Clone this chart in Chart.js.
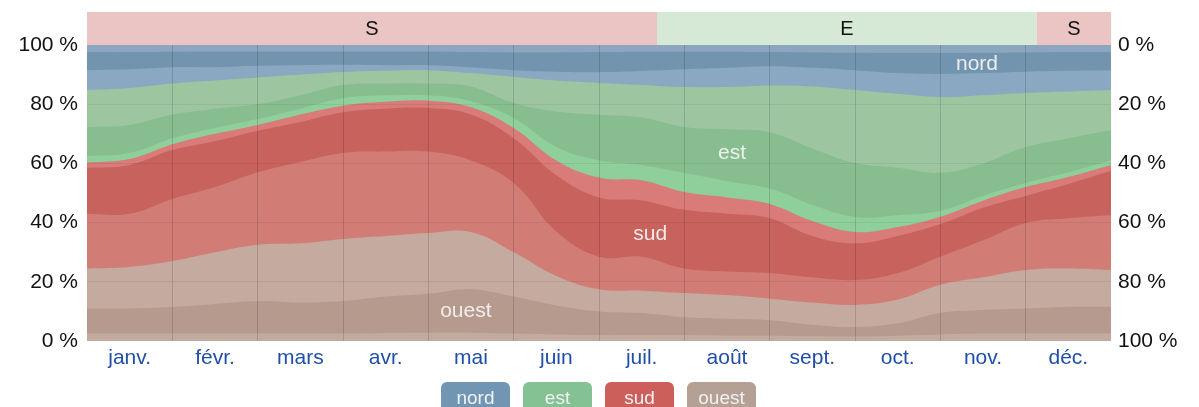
<!DOCTYPE html>
<html>
<head>
<meta charset="utf-8">
<script src="https://cdn.jsdelivr.net/npm/chart.js@4"></script>
<style>
  html, body { margin: 0; padding: 0; background: #fff; }
  #wrap { position: relative; width: 1199px; height: 407px; overflow: hidden; }
  #legend { position: absolute; top: 382px; left: 441px; display: flex; gap: 13px; }
  #legend span {
    font: 19px Arial, "Liberation Sans", sans-serif;
    display: block; width: 69px; height: 31px; line-height: 31px; border-radius: 6px;
    color: #f2f2f2; text-align: center;
  }
</style>
</head>
<body>
<div id="wrap">
  <canvas id="windChart" width="1199" height="407"></canvas>
  <div id="legend"></div>
</div>
<script>
// Mois (position en mois depuis le 1er janvier)
const mois = ["janv.", "févr.", "mars", "avr.", "mai", "juin", "juil.", "août", "sept.", "oct.", "nov.", "déc."];
const positions = [0, 0.5, 1, 1.5, 2, 2.5, 3, 3.5, 4, 4.5, 5, 5.5, 6, 6.5, 7, 7.5, 8, 8.5, 9, 9.5, 10, 10.5, 11, 11.5, 12];

// Limites cumulées des bandes (%), du bas vers le haut
const ouestNO   = [2.5, 2.5, 2.5, 2.5, 2.5, 2.5, 2.5, 2.7, 2.8, 2.8, 2.5, 2.2, 2, 2, 2, 1.8, 1.8, 1.6, 1.5, 1.8, 2.2, 2.5, 2.5, 2.5, 2.5];
const ouest     = [11, 11, 11.5, 12.5, 13.5, 13, 13.5, 15, 16, 17.5, 15, 12, 10, 9.5, 8.1, 7.5, 7, 5.5, 4.7, 6, 9.5, 10.5, 11, 11.5, 11.5];
const ouestSO   = [24.5, 25, 27, 30, 32.5, 33, 34.5, 35.5, 36.5, 36.8, 30, 22, 17.5, 17, 16.2, 15.5, 14.3, 13, 12.2, 14, 19, 21.5, 24, 24.5, 24];
const sudSO     = [43, 43, 48, 52, 57, 60.5, 63.5, 64, 64, 61, 53.4, 37, 28.5, 28.5, 24.5, 23.5, 23, 21.5, 20.6, 23, 28.5, 34, 39.9, 41.5, 42.6];
const sud       = [58.5, 59.5, 64.5, 67.5, 71, 74, 77.3, 78.5, 78.7, 76.5, 68.5, 56, 48.5, 47.5, 44.3, 43, 41.5, 35.5, 33, 35.5, 39.5, 45, 49, 53, 57.5];
const sudSE     = [60.3, 61.5, 66.5, 70, 73, 76.5, 79.5, 80.8, 81.2, 79, 72, 61, 55.2, 54.3, 50.3, 48.5, 46.3, 40.5, 36.8, 38.5, 42, 47.4, 52, 55.4, 59.5];
const estSE     = [62.5, 63.5, 68.5, 72, 75, 78.5, 82, 83, 83, 81, 75.3, 65.5, 61, 59.5, 56.8, 54, 51.5, 46, 41.9, 42.5, 44, 49, 53.4, 57, 61];
const est       = [72.3, 73, 76.5, 78.5, 80, 83, 86.5, 87, 87, 86, 80.4, 77.5, 76.4, 75.5, 72.3, 71.5, 70.5, 65, 60.1, 58.5, 56.8, 60, 65.5, 68.5, 71.3];
const estNE     = [84.8, 85.5, 87, 88, 89, 90, 90.9, 91.3, 91.5, 90.5, 89.2, 88, 87.2, 86.5, 85.8, 85.8, 86.3, 86, 84.8, 83.5, 82.4, 83, 83.8, 84.3, 84.8];
const nordNE    = [91.5, 91.8, 92.5, 92.5, 93, 93.2, 93.3, 93.2, 93.2, 92.5, 91.5, 91, 90.8, 91.2, 91.8, 92.3, 92.8, 92.3, 91.5, 90.5, 90.2, 90.5, 91, 91.3, 91.5];
const nord      = [97.6, 97.6, 97.7, 97.8, 97.8, 97.8, 97.8, 97.8, 97.8, 97.6, 97.5, 97.5, 97.6, 97.7, 97.7, 97.7, 97.6, 97.5, 97.4, 97.3, 97.3, 97.4, 97.5, 97.6, 97.6];
const nordNO    = [100, 100, 100, 100, 100, 100, 100, 100, 100, 100, 100, 100, 100, 100, 100, 100, 100, 100, 100, 100, 100, 100, 100, 100, 100];

// Direction dominante (bande du haut), en mois
const bandeLabels = ["S", "E", "S"];
const bandeDebut = [0, 6.68, 11.13];
const bandeFin = [6.68, 11.13, 12];

const legendes = ["nord", "est", "sud", "ouest"];

const couches = [
  { data: ouestNO, color: "#c3aa9f" },
  { data: ouest, color: "#b79a8e" },
  { data: ouestSO, color: "#c4aa9f" },
  { data: sudSO, color: "#d27c76" },
  { data: sud, color: "#c8625c" },
  { data: sudSE, color: "#d87b79" },
  { data: estSE, color: "#8fcf9c" },
  { data: est, color: "#88bd90" },
  { data: estNE, color: "#9dc6a0" },
  { data: nordNE, color: "#8aa8c1" },
  { data: nord, color: "#7294af" },
  { data: nordNO, color: "#8ba7bf" }
];

const couleursBande = { S: "#ebc5c4", E: "#d6e8d6" };
const etiquettes = [
  { text: "nord", x: 10.43, y: 93.6 },
  { text: "est", x: 7.56, y: 63.5 },
  { text: "sud", x: 6.6, y: 36.1 },
  { text: "ouest", x: 4.44, y: 10.1 }
];
const couleursLegende = ["#7096b4", "#84c294", "#cd5f5a", "#b5a096"];
const police = "Arial, 'Liberation Sans', sans-serif";

const legend = document.getElementById("legend");
legendes.forEach((l, i) => {
  const s = document.createElement("span");
  s.textContent = l;
  s.style.background = couleursLegende[i];
  legend.appendChild(s);
});

// bande S / E en haut + étiquettes dans le graphe
const extras = {
  id: "extras",
  afterDatasetsDraw(chart) {
    const { ctx, scales } = chart;
    ctx.save();
    ctx.font = "21px " + police;
    ctx.textAlign = "center";
    ctx.textBaseline = "middle";
    ctx.fillStyle = "rgba(245,245,245,0.92)";
    etiquettes.forEach(e => {
      ctx.fillText(e.text, scales.x.getPixelForValue(e.x), scales.y.getPixelForValue(e.y));
    });
    ctx.restore();
  },
  afterDraw(chart) {
    const { ctx, chartArea, scales } = chart;
    const top = chartArea.top - 33;
    ctx.save();
    bandeLabels.forEach((lab, i) => {
      const x0 = scales.x.getPixelForValue(bandeDebut[i]);
      const x1 = scales.x.getPixelForValue(bandeFin[i]);
      ctx.fillStyle = couleursBande[lab];
      ctx.fillRect(x0, top, x1 - x0, 33);
      ctx.fillStyle = "#111";
      ctx.font = "20px " + police;
      ctx.textAlign = "center";
      ctx.textBaseline = "middle";
      ctx.fillText(lab, (x0 + x1) / 2, top + 17);
    });
    ctx.restore();
  }
};

new Chart(document.getElementById("windChart").getContext("2d"), {
  type: "line",
  data: {
    datasets: couches.map(c => ({
      data: c.data.map((v, i) => ({ x: positions[i], y: v })),
      backgroundColor: c.color,
      borderWidth: 0,
      pointRadius: 0,
      tension: 0.4,
      fill: "origin"
    }))
  },
  options: {
    responsive: false,
    animation: false,
    layout: { padding: { top: 45, left: 0, right: 0, bottom: 0 } },
    plugins: { legend: { display: false }, tooltip: { enabled: false } },
    scales: {
      x: {
        type: "linear", min: 0, max: 12,
        afterFit: s => { s.height = 66; },
        border: { display: false },
        grid: {
          z: 1,
          drawTicks: false,
          color: c => (c.tick.value % 1 === 0 && c.tick.value > 0 && c.tick.value < 12) ? "rgba(0,0,0,0.14)" : "transparent"
        },
        ticks: {
          stepSize: 0.5, autoSkip: false, maxRotation: 0, padding: 5,
          color: "#1f4fa8",
          font: { family: police, size: 21 },
          callback: v => (v % 1 !== 0 && v < 12) ? mois[Math.floor(v)] : ""
        }
      },
      y: {
        min: 0, max: 100,
        afterFit: s => { s.width = 87; },
        border: { display: false },
        grid: {
          z: 1,
          drawTicks: false,
          color: c => (c.tick.value > 0 && c.tick.value < 100) ? "rgba(0,0,0,0.06)" : "transparent"
        },
        ticks: {
          stepSize: 20, padding: 9, color: "#111",
          font: { family: police, size: 21 },
          callback: v => v + " %"
        }
      },
      y2: {
        position: "right", min: 0, max: 100, reverse: true,
        afterFit: s => { s.width = 88; },
        border: { display: false },
        grid: { display: false, drawTicks: false },
        ticks: {
          stepSize: 20, padding: 7, color: "#111",
          font: { family: police, size: 21 },
          callback: v => v + " %"
        }
      }
    }
  },
  plugins: [extras]
});
</script>
</body>
</html>
